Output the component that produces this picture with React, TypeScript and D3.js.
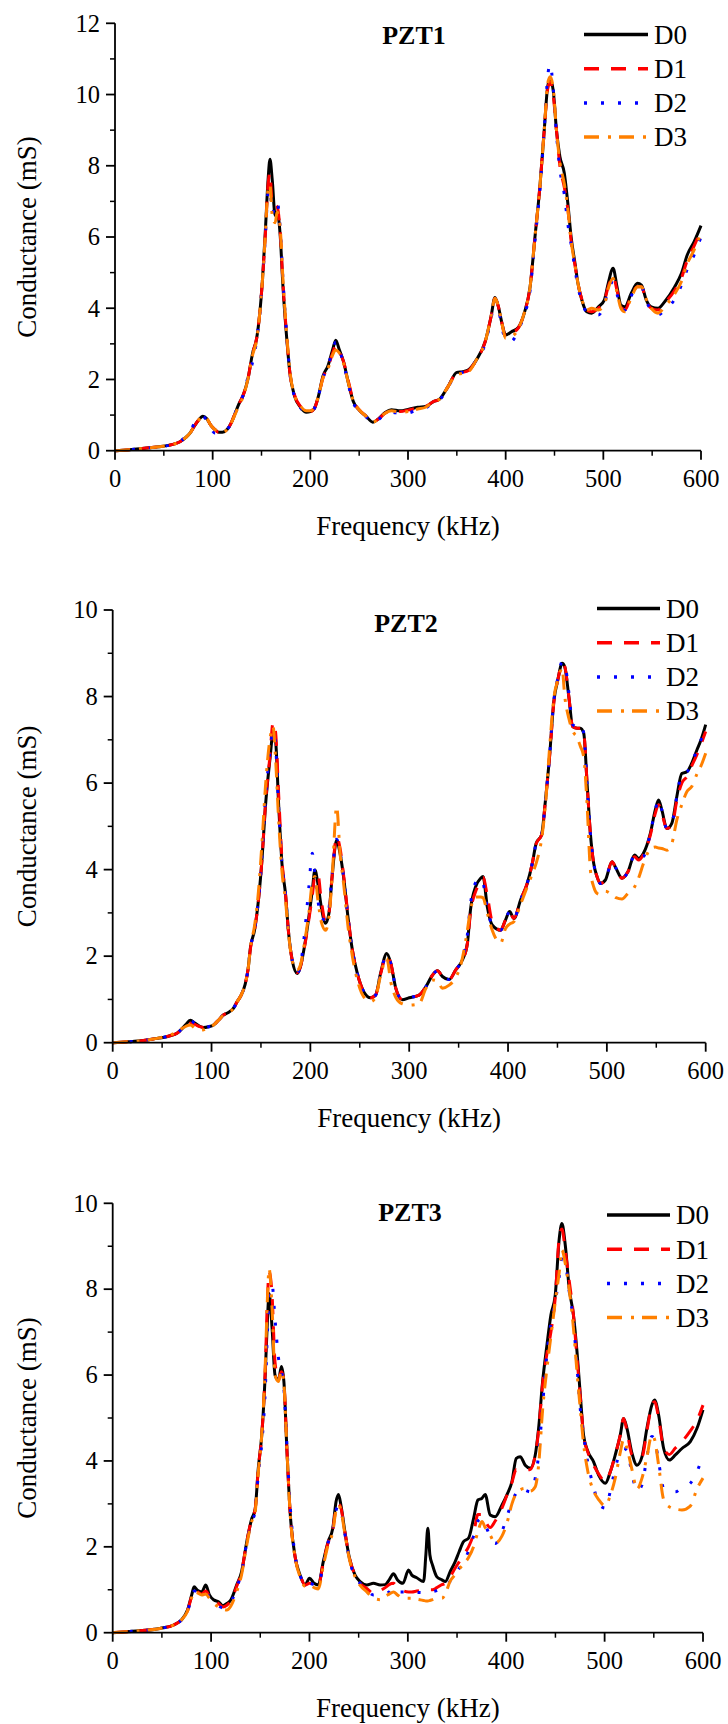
import React from "react";
import * as d3 from "d3";

// ---------- DATA ----------
const seriesNames = ["D0", "D1", "D2", "D3"];
const seriesColors = ["#000000", "#ff0000", "#0000ff", "#ff8000"];
const seriesDash = ["none", "15 12", "3 14", "15 9 3 8"];
const xTicks = [0, 100, 200, 300, 400, 500, 600];
const xMinorTicks = [50, 150, 250, 350, 450, 550];

// PZT1
const p1Freq = [0, 15, 30, 45, 55, 62, 67, 72, 77, 81, 85, 90, 94, 98, 102, 106, 110, 115, 119, 123, 127, 131, 136, 141, 145, 148, 151, 154, 156.5, 158.7, 161, 164, 166, 169, 172, 176, 179, 184, 190, 196, 200, 204, 208, 213, 218, 223, 226, 229.5, 234, 239, 244, 250, 257, 264, 270, 277, 283, 292, 300, 310, 318, 326, 332, 341, 350, 356, 362, 370, 379, 385, 389, 392.5, 396, 400, 406, 413, 419, 425, 430, 435, 439.5, 443, 445.5, 448.6, 452, 455.5, 460, 464, 467, 471, 474, 478, 483, 488, 495, 501, 505, 510, 514, 518, 522, 528.6, 535, 539, 544, 549, 556, 563, 573, 580, 586, 593, 600];
const p1D0 = [0, 0.03, 0.07, 0.11, 0.15, 0.2, 0.26, 0.36, 0.5, 0.68, 0.84, 0.97, 0.9, 0.72, 0.6, 0.52, 0.52, 0.6, 0.78, 1.05, 1.32, 1.54, 2.0, 2.75, 3.15, 3.8, 4.8, 6.2, 7.5, 8.18, 7.6, 6.6, 6.7, 6.1, 4.6, 3.1, 2.2, 1.52, 1.22, 1.08, 1.1, 1.18, 1.5, 2.1, 2.38, 2.85, 3.1, 2.85, 2.5, 1.9, 1.38, 1.14, 0.97, 0.8, 0.9, 1.08, 1.15, 1.12, 1.16, 1.22, 1.24, 1.38, 1.44, 1.8, 2.2, 2.22, 2.27, 2.55, 3.06, 3.76, 4.3, 4.05, 3.6, 3.25, 3.34, 3.46, 3.86, 4.6, 6.0, 7.4, 9.0, 10.22, 10.42, 10.13, 9.0, 8.26, 7.8, 6.85, 6.0, 5.26, 4.7, 4.23, 3.9, 3.86, 4.04, 4.23, 4.7, 5.12, 4.6, 4.09, 4.04, 4.42, 4.7, 4.65, 4.23, 4.04, 4.0, 4.19, 4.6, 4.98, 5.5, 5.87, 6.32];
const p1D1 = [0, 0.03, 0.07, 0.11, 0.15, 0.2, 0.26, 0.36, 0.5, 0.68, 0.84, 0.96, 0.9, 0.72, 0.6, 0.52, 0.52, 0.6, 0.78, 1.05, 1.32, 1.54, 2.0, 2.75, 3.15, 3.8, 4.8, 6.1, 7.4, 7.8, 6.9, 6.9, 6.85, 6.2, 4.7, 3.15, 2.2, 1.55, 1.24, 1.1, 1.1, 1.18, 1.5, 2.05, 2.35, 2.75, 2.95, 2.8, 2.5, 1.95, 1.4, 1.15, 0.97, 0.8, 0.9, 1.06, 1.12, 1.1, 1.14, 1.2, 1.24, 1.38, 1.44, 1.8, 2.18, 2.2, 2.25, 2.55, 3.06, 3.76, 4.28, 4.05, 3.6, 3.2, 3.3, 3.45, 3.86, 4.6, 6.0, 7.4, 9.0, 10.15, 10.35, 10.0, 9.0, 8.0, 7.4, 6.7, 5.9, 5.2, 4.7, 4.25, 3.95, 3.9, 4.0, 4.2, 4.6, 4.9, 4.5, 4.05, 3.95, 4.35, 4.6, 4.6, 4.2, 4.0, 3.95, 4.15, 4.5, 4.85, 5.35, 5.75, 6.2];
const p1D2 = [0, 0.03, 0.07, 0.11, 0.15, 0.2, 0.27, 0.38, 0.55, 0.75, 0.92, 0.96, 0.85, 0.65, 0.5, 0.5, 0.52, 0.6, 0.78, 1.05, 1.32, 1.54, 2.05, 2.5, 3.1, 3.8, 4.8, 6.0, 7.2, 7.35, 6.65, 6.9, 7.0, 6.3, 4.8, 3.2, 2.2, 1.5, 1.2, 1.06, 1.1, 1.18, 1.5, 2.05, 2.35, 2.85, 3.05, 2.85, 2.45, 1.85, 1.35, 1.12, 0.95, 0.78, 0.88, 1.04, 1.08, 1.05, 1.06, 1.15, 1.2, 1.36, 1.42, 1.78, 2.18, 2.2, 2.25, 2.55, 3.0, 3.7, 4.25, 4.0, 3.5, 3.1, 3.08, 3.4, 3.8, 4.5, 5.9, 7.3, 9.0, 10.5, 10.85, 10.2, 8.9, 7.9, 7.2, 6.3, 5.8, 5.1, 4.6, 4.2, 3.9, 3.9, 3.81, 4.1, 4.5, 4.75, 4.4, 4.0, 3.95, 4.35, 4.6, 4.6, 4.2, 3.95, 3.81, 3.95, 4.25, 4.65, 5.1, 5.5, 6.0];
const p1D3 = [0, 0.03, 0.07, 0.11, 0.15, 0.2, 0.26, 0.36, 0.5, 0.68, 0.84, 0.95, 0.9, 0.72, 0.6, 0.52, 0.52, 0.6, 0.78, 1.02, 1.28, 1.5, 2.0, 2.7, 3.1, 3.8, 4.8, 6.1, 7.3, 7.46, 6.6, 6.4, 6.7, 6.3, 4.8, 3.2, 2.25, 1.55, 1.25, 1.12, 1.12, 1.2, 1.5, 2.05, 2.3, 2.7, 2.83, 2.75, 2.45, 1.9, 1.4, 1.15, 0.97, 0.8, 0.9, 1.06, 1.12, 1.08, 1.1, 1.17, 1.22, 1.38, 1.44, 1.8, 2.15, 2.17, 2.22, 2.55, 3.06, 3.76, 4.28, 4.05, 3.6, 3.15, 3.2, 3.42, 3.86, 4.6, 6.0, 7.4, 9.0, 10.3, 10.5, 10.2, 9.0, 8.1, 7.5, 6.7, 5.9, 5.2, 4.7, 4.25, 3.95, 4.0, 3.95, 4.1, 4.55, 4.84, 4.45, 4.0, 3.9, 4.3, 4.6, 4.6, 4.25, 4.0, 3.86, 4.05, 4.4, 4.75, 5.25, 5.64, 6.1];

// PZT2
const p2Freq = [0, 15, 31, 45, 51, 58, 65, 70, 74, 78.5, 83.5, 88, 92, 97, 102, 107, 112, 117, 122, 126, 130, 134, 137, 139.5, 143.5, 147.5, 151, 154.5, 159, 162.3, 164.7, 168, 171.5, 174.8, 178, 181.6, 186.7, 190, 194, 198.5, 202, 204.6, 207.6, 211, 215.4, 218.8, 222, 226.6, 230, 234, 238, 242.5, 247.5, 254, 261, 266, 271, 277.3, 281.4, 286.4, 293, 300, 310, 316.8, 323.5, 328.6, 333.6, 340.4, 347, 353.8, 358.9, 362, 367.3, 372.3, 374.7, 379, 384, 392.5, 397.5, 401.6, 406, 412.7, 419.4, 424.5, 428.5, 433.9, 437.9, 442, 446.3, 450.7, 454.7, 457.4, 461.5, 465.5, 469.9, 473.2, 476.6, 480, 483.3, 486.7, 490, 493.4, 498.5, 505.2, 509.2, 515.3, 521.3, 528, 532, 537, 544, 549, 552.3, 555.6, 560.7, 565.7, 570.8, 575.8, 580.9, 585.9, 591, 595.3, 600];
const p2D0 = [0, 0.02, 0.05, 0.1, 0.12, 0.16, 0.22, 0.32, 0.42, 0.52, 0.45, 0.38, 0.35, 0.37, 0.41, 0.52, 0.64, 0.7, 0.79, 0.95, 1.1, 1.35, 1.7, 2.22, 2.6, 3.3, 4.22, 5.45, 6.53, 7.15, 7.0, 5.45, 4.07, 3.45, 2.53, 1.91, 1.6, 1.76, 2.22, 2.91, 3.53, 3.99, 3.68, 3.14, 2.76, 2.99, 3.84, 4.68, 4.38, 3.76, 2.91, 2.14, 1.6, 1.18, 1.04, 1.1, 1.6, 2.06, 1.83, 1.26, 0.99, 1.04, 1.1, 1.29, 1.56, 1.66, 1.53, 1.46, 1.68, 1.91, 2.3, 3.07, 3.61, 3.8, 3.84, 3.14, 2.72, 2.6, 2.84, 3.03, 2.87, 3.3, 3.68, 4.14, 4.61, 4.8, 5.61, 6.61, 7.88, 8.42, 8.77, 8.69, 8.0, 7.3, 7.27, 7.27, 7.15, 5.99, 4.84, 4.14, 3.84, 3.68, 3.76, 4.18, 4.03, 3.8, 3.95, 4.34, 4.26, 4.38, 4.84, 5.38, 5.61, 5.38, 4.95, 5.07, 5.69, 6.22, 6.26, 6.46, 6.76, 7.0, 7.35];
const p2D1 = [0, 0.02, 0.05, 0.1, 0.12, 0.16, 0.22, 0.3, 0.38, 0.45, 0.42, 0.37, 0.35, 0.37, 0.41, 0.52, 0.64, 0.7, 0.79, 0.95, 1.1, 1.35, 1.7, 2.2, 2.6, 3.3, 4.22, 5.5, 6.6, 7.4, 7.2, 5.7, 4.15, 3.45, 2.53, 1.91, 1.62, 1.76, 2.2, 2.85, 3.4, 3.85, 3.9, 3.3, 2.8, 2.99, 3.84, 4.76, 4.5, 3.8, 2.95, 2.14, 1.6, 1.18, 1.04, 1.1, 1.58, 2.03, 1.83, 1.26, 1.0, 1.04, 1.1, 1.29, 1.56, 1.66, 1.53, 1.46, 1.68, 1.91, 2.3, 3.0, 3.5, 3.7, 3.82, 3.4, 2.8, 2.6, 2.84, 3.0, 2.87, 3.3, 3.68, 4.14, 4.6, 4.8, 5.6, 6.6, 7.85, 8.42, 8.77, 8.69, 8.0, 7.3, 7.27, 7.27, 7.15, 5.99, 4.84, 4.14, 3.84, 3.68, 3.76, 4.18, 4.03, 3.8, 3.95, 4.3, 4.22, 4.35, 4.8, 5.3, 5.5, 5.3, 4.95, 5.0, 5.6, 6.0, 6.15, 6.4, 6.65, 6.9, 7.19];
const p2D2 = [0, 0.02, 0.05, 0.1, 0.12, 0.16, 0.22, 0.32, 0.42, 0.5, 0.45, 0.38, 0.35, 0.37, 0.41, 0.52, 0.64, 0.7, 0.79, 0.95, 1.1, 1.35, 1.7, 2.2, 2.6, 3.3, 4.3, 5.6, 6.7, 7.2, 6.9, 5.4, 4.07, 3.45, 2.5, 1.91, 1.6, 1.8, 2.5, 3.6, 4.38, 3.9, 3.3, 2.87, 2.84, 3.1, 3.9, 4.7, 4.4, 3.76, 2.91, 2.14, 1.6, 1.18, 1.04, 1.1, 1.6, 2.03, 1.83, 1.26, 1.0, 1.04, 1.1, 1.29, 1.56, 1.66, 1.53, 1.46, 1.68, 1.95, 2.5, 3.2, 3.7, 3.8, 3.7, 3.1, 2.72, 2.6, 2.84, 3.03, 2.87, 3.3, 3.68, 4.14, 4.61, 4.8, 5.61, 6.61, 7.9, 8.45, 8.8, 8.75, 8.1, 7.35, 7.3, 7.36, 7.15, 5.99, 4.84, 4.14, 3.84, 3.68, 3.76, 4.18, 4.03, 3.8, 3.95, 4.34, 4.26, 4.3, 4.84, 5.38, 5.61, 5.38, 4.95, 5.07, 5.69, 6.22, 6.26, 6.46, 6.76, 7.0, 7.34];
const p2D3 = [0, 0.02, 0.05, 0.1, 0.13, 0.18, 0.25, 0.33, 0.38, 0.41, 0.33, 0.29, 0.3, 0.35, 0.41, 0.52, 0.64, 0.7, 0.79, 0.95, 1.1, 1.35, 1.7, 2.22, 2.7, 3.5, 4.6, 5.9, 7.0, 7.3, 6.6, 5.1, 3.9, 3.3, 2.5, 1.9, 1.68, 1.8, 2.3, 3.0, 3.7, 3.84, 3.3, 2.8, 2.6, 2.9, 3.8, 5.45, 4.4, 3.6, 2.7, 2.0, 1.45, 1.06, 0.95, 1.05, 1.55, 1.95, 1.4, 1.05, 0.9, 0.87, 0.9, 1.25, 1.45, 1.42, 1.26, 1.33, 1.5, 1.95, 2.6, 3.07, 3.37, 3.37, 3.35, 3.0, 2.6, 2.3, 2.64, 2.74, 2.8, 3.2, 3.6, 3.9, 4.15, 4.7, 5.5, 6.8, 7.95, 8.4, 8.65, 8.0, 7.5, 7.2, 7.05, 6.85, 6.6, 5.5, 4.0, 3.6, 3.45, 3.42, 3.5, 3.42, 3.35, 3.32, 3.45, 3.6, 3.8, 4.14, 4.48, 4.52, 4.5, 4.49, 4.45, 4.6, 5.15, 5.5, 5.8, 5.92, 6.2, 6.4, 6.69];

// PZT3
const p3Freq = [0, 24, 48, 62, 70, 76, 80.3, 82.7, 86, 90.5, 94.6, 98.3, 103, 107.5, 112, 116, 120, 126, 131, 136.3, 141.4, 144.7, 148, 151.5, 155, 157.3, 159, 162, 165, 168.5, 171.5, 174, 177, 180.3, 185.4, 190.5, 195.6, 200, 204.7, 209, 214, 219, 223.7, 227, 229.5, 232, 236, 240.7, 246.4, 251.5, 258.3, 265, 271.9, 277, 281, 285.4, 289.5, 295, 300.7, 304, 309, 316, 318.3, 320.3, 322.4, 325, 329.5, 334.6, 338, 343, 348, 352.2, 356.6, 361.7, 366.8, 371.2, 375.3, 378.6, 383.7, 388.8, 395.6, 400.7, 405.8, 410.2, 414.2, 419.3, 424.4, 429.5, 432.9, 437, 441.4, 445.4, 449.8, 453.9, 456.6, 460, 464, 468.3, 471.9, 475.3, 478.6, 483, 488.8, 493.9, 500.7, 505.8, 510.8, 515.9, 519.3, 522.7, 527.8, 532.9, 538, 543, 548, 550.8, 554.9, 560, 565.8, 571.9, 578.6, 587.1, 593.9, 600];
const p3D0 = [0, 0.04, 0.1, 0.18, 0.3, 0.53, 0.88, 1.07, 0.99, 0.95, 1.11, 0.88, 0.76, 0.72, 0.63, 0.68, 0.76, 1.11, 1.42, 2.12, 2.66, 2.86, 3.83, 4.6, 6.0, 7.3, 7.9, 7.09, 6.0, 5.88, 6.2, 5.85, 4.3, 2.82, 1.77, 1.34, 1.11, 1.27, 1.15, 1.11, 1.65, 2.12, 2.43, 3.05, 3.22, 2.97, 2.35, 1.73, 1.34, 1.19, 1.11, 1.15, 1.11, 1.12, 1.23, 1.37, 1.23, 1.15, 1.46, 1.34, 1.28, 1.19, 1.81, 2.43, 1.81, 1.58, 1.3, 1.23, 1.19, 1.42, 1.65, 1.89, 2.12, 2.2, 2.66, 3.09, 3.13, 3.22, 2.74, 2.7, 2.97, 3.21, 3.52, 4.06, 4.1, 3.9, 3.83, 4.14, 4.76, 5.85, 6.7, 7.4, 7.86, 9.18, 9.53, 9.03, 8.02, 7.4, 6.55, 5.54, 4.6, 4.22, 3.98, 3.67, 3.48, 3.75, 4.14, 4.6, 4.99, 4.76, 4.18, 3.9, 4.1, 4.76, 5.3, 5.42, 5.07, 4.29, 4.02, 4.14, 4.29, 4.45, 4.76, 5.19];
const p3D1 = [0, 0.04, 0.1, 0.18, 0.3, 0.5, 0.85, 1.0, 0.95, 0.9, 0.97, 0.85, 0.74, 0.68, 0.6, 0.64, 0.74, 1.08, 1.42, 2.12, 2.66, 2.86, 3.83, 4.6, 6.1, 7.8, 8.4, 7.86, 6.3, 5.9, 6.08, 5.85, 4.3, 2.82, 1.77, 1.34, 1.11, 1.15, 1.12, 1.1, 1.62, 2.1, 2.4, 2.9, 3.0, 2.9, 2.35, 1.73, 1.34, 1.15, 1.03, 0.92, 0.98, 1.05, 1.12, 1.15, 1.05, 0.98, 0.95, 0.95, 0.97, 0.99, 0.99, 1.0, 1.0, 1.0, 1.05, 1.12, 1.15, 1.3, 1.5, 1.65, 1.81, 2.0, 2.3, 2.75, 2.75, 2.6, 2.45, 2.6, 2.9, 3.2, 3.5, 3.8, 3.8, 3.79, 3.8, 4.14, 4.7, 5.8, 6.5, 7.0, 7.8, 9.2, 9.4, 8.9, 8.2, 7.4, 6.4, 5.5, 4.6, 4.2, 3.9, 3.7, 3.52, 3.75, 4.14, 4.6, 4.99, 4.7, 4.14, 4.08, 4.1, 4.7, 5.3, 5.38, 5.0, 4.3, 4.15, 4.3, 4.45, 4.7, 4.95, 5.3];
const p3D2 = [0, 0.04, 0.1, 0.18, 0.3, 0.5, 0.82, 0.97, 0.95, 0.9, 0.95, 0.82, 0.7, 0.62, 0.58, 0.62, 0.7, 1.05, 1.4, 2.1, 2.6, 2.8, 3.7, 4.4, 5.6, 7.0, 7.8, 8.1, 7.3, 6.4, 6.1, 5.7, 4.4, 3.0, 1.8, 1.34, 1.1, 1.15, 1.12, 1.1, 1.6, 2.1, 2.4, 2.85, 2.95, 2.85, 2.3, 1.7, 1.3, 1.15, 1.0, 0.88, 0.9, 0.92, 0.95, 1.05, 0.95, 0.95, 0.95, 0.95, 0.94, 0.93, 0.92, 0.92, 0.93, 0.95, 0.98, 1.03, 1.07, 1.2, 1.34, 1.5, 1.65, 1.9, 2.25, 2.6, 2.65, 2.51, 2.25, 2.08, 2.35, 2.7, 3.05, 3.25, 3.36, 3.32, 3.28, 3.6, 4.14, 5.3, 6.5, 7.2, 7.7, 8.3, 8.7, 8.6, 7.95, 7.24, 6.2, 5.2, 4.6, 3.95, 3.4, 3.0, 2.9, 3.3, 3.83, 4.2, 4.29, 4.25, 3.7, 3.3, 3.44, 4.1, 4.57, 4.5, 3.98, 3.36, 3.3, 3.28, 3.38, 3.48, 3.75, 4.14];
const p3D3 = [0, 0.04, 0.1, 0.18, 0.3, 0.5, 0.82, 0.95, 0.93, 0.88, 0.9, 0.8, 0.68, 0.6, 0.55, 0.53, 0.62, 0.95, 1.35, 2.05, 2.6, 2.8, 3.75, 4.6, 6.2, 7.8, 8.47, 7.55, 6.0, 5.85, 6.1, 5.8, 4.3, 2.8, 1.75, 1.3, 1.08, 1.1, 1.05, 1.02, 1.55, 2.05, 2.35, 2.85, 2.97, 2.85, 2.3, 1.7, 1.3, 1.1, 0.95, 0.8, 0.77, 0.85, 0.9, 0.95, 0.88, 0.8, 0.8, 0.8, 0.78, 0.75, 0.74, 0.74, 0.75, 0.77, 0.8, 0.8, 0.9, 1.2, 1.35, 1.48, 1.6, 1.75, 2.0, 2.35, 2.59, 2.45, 2.27, 2.08, 2.25, 2.55, 3.0, 3.25, 3.33, 3.36, 3.3, 3.4, 3.9, 5.2, 6.16, 6.9, 7.7, 8.4, 8.91, 8.6, 8.0, 7.1, 6.08, 5.2, 4.4, 3.75, 3.3, 3.1, 2.95, 3.2, 3.6, 4.2, 4.5, 4.3, 3.8, 3.35, 3.6, 4.1, 4.6, 4.5, 3.9, 3.1, 2.93, 2.88, 2.86, 2.95, 3.35, 3.6];

const panelTitles = ["PZT1", "PZT2", "PZT3"];
const panelYMax = [12, 10, 10];
const p1YTicks = [0, 2, 4, 6, 8, 10, 12];
const p2YTicks = [0, 2, 4, 6, 8, 10];
const p3YTicks = [0, 2, 4, 6, 8, 10];

// ---------- LAYOUT ----------
const W = 728;
const H = 1724;
const FONT = "Liberation Serif, Times New Roman, DejaVu Serif, serif";

type PanelCfg = {
  title: string;
  freq: number[];
  series: number[][];
  yMax: number;
  yTicks: number[];
  left: number;
  right: number;
  top: number;
  bottom: number;
  titleX: number;
  titleY: number;
  legLineX0: number;
  legLineX1: number;
  legY0: number;
};

const panels: PanelCfg[] = [
  { title: panelTitles[0], freq: p1Freq, series: [p1D0, p1D1, p1D2, p1D3], yMax: panelYMax[0], yTicks: p1YTicks,
    left: 115, right: 701, top: 23.3, bottom: 450.7, titleX: 414, titleY: 43.5, legLineX0: 584, legLineX1: 648, legY0: 34.5 },
  { title: panelTitles[1], freq: p2Freq, series: [p2D0, p2D1, p2D2, p2D3], yMax: panelYMax[1], yTicks: p2YTicks,
    left: 112.7, right: 705.7, top: 610, bottom: 1042.7, titleX: 406, titleY: 631.5, legLineX0: 597, legLineX1: 660, legY0: 608.5 },
  { title: panelTitles[2], freq: p3Freq, series: [p3D0, p3D1, p3D2, p3D3], yMax: panelYMax[2], yTicks: p3YTicks,
    left: 112.7, right: 703, top: 1203.3, bottom: 1632.7, titleX: 410, titleY: 1220.5, legLineX0: 607, legLineX1: 670, legY0: 1215 },
];

const LEG_STEP = 34.2;
const textStyle: React.CSSProperties = { fontFamily: FONT };

function Panel({ cfg }: { cfg: PanelCfg }) {
  const x = d3.scaleLinear().domain([0, 600]).range([cfg.left, cfg.right]);
  const y = d3.scaleLinear().domain([0, cfg.yMax]).range([cfg.bottom, cfg.top]);
  const yMinor = d3.range(1, cfg.yMax, 2);
  const line = d3
    .line<number>()
    .x((_, i) => x(cfg.freq[i]))
    .y((v) => y(v))
    .curve(d3.curveMonotoneX);
  const midX = (cfg.left + cfg.right) / 2;
  const midY = (cfg.top + cfg.bottom) / 2;
  return (
    <g>
      {cfg.series.map((vals, si) => (
        <path
          key={si}
          d={line(vals) || ""}
          fill="none"
          stroke={seriesColors[si]}
          strokeWidth={3}
          strokeDasharray={seriesDash[si] === "none" ? undefined : seriesDash[si]}
          strokeLinejoin="round"
        />
      ))}
      <line x1={cfg.left} x2={cfg.left} y1={cfg.top} y2={cfg.bottom} stroke="#000" strokeWidth={1.8} />
      <line x1={cfg.left} x2={cfg.right} y1={cfg.bottom} y2={cfg.bottom} stroke="#000" strokeWidth={1.8} />
      {cfg.yTicks.map((t) => (
        <g key={"yt" + t}>
          <line x1={cfg.left - 9} x2={cfg.left} y1={y(t)} y2={y(t)} stroke="#000" strokeWidth={1.8} />
          <text x={cfg.left - 15} y={y(t) + 8.3} textAnchor="end" fontSize={24.5} style={textStyle} fill="#000">
            {t}
          </text>
        </g>
      ))}
      {yMinor.map((t) => (
        <line key={"ym" + t} x1={cfg.left - 5} x2={cfg.left} y1={y(t)} y2={y(t)} stroke="#000" strokeWidth={1.5} />
      ))}
      {xTicks.map((t) => (
        <g key={"xt" + t}>
          <line x1={x(t)} x2={x(t)} y1={cfg.bottom} y2={cfg.bottom + 9} stroke="#000" strokeWidth={1.8} />
          <text x={x(t)} y={cfg.bottom + 36} textAnchor="middle" fontSize={24.5} style={textStyle} fill="#000">
            {t}
          </text>
        </g>
      ))}
      {xMinorTicks.map((t) => (
        <line key={"xm" + t} x1={x(t)} x2={x(t)} y1={cfg.bottom} y2={cfg.bottom + 5} stroke="#000" strokeWidth={1.5} />
      ))}
      <text x={midX} y={cfg.bottom + 84.5} textAnchor="middle" fontSize={27} style={textStyle} fill="#000">
        Frequency (kHz)
      </text>
      <text
        transform={`translate(35.5, ${midY}) rotate(-90)`}
        textAnchor="middle"
        fontSize={27}
        style={textStyle}
        fill="#000"
      >
        Conductance (mS)
      </text>
      <text x={cfg.titleX} y={cfg.titleY} textAnchor="middle" fontSize={26} fontWeight="bold" style={textStyle} fill="#000">
        {cfg.title}
      </text>
      {seriesNames.map((name, si) => {
        const ly = cfg.legY0 + si * LEG_STEP;
        return (
          <g key={name}>
            <line
              x1={cfg.legLineX0}
              x2={cfg.legLineX1}
              y1={ly}
              y2={ly}
              stroke={seriesColors[si]}
              strokeWidth={3.5}
              strokeDasharray={seriesDash[si] === "none" ? undefined : seriesDash[si]}
            />
            <text x={cfg.legLineX1 + 6} y={ly + 9.3} fontSize={27} style={textStyle} fill="#000">
              {name}
            </text>
          </g>
        );
      })}
    </g>
  );
}

export default function App() {
  return (
    <svg
      width={W}
      height={H}
      viewBox={`0 0 ${W} ${H}`}
      style={{ position: "absolute", left: 0, top: 0, background: "#fff" }}
    >
      <rect x={0} y={0} width={W} height={H} fill="#fff" />
      {panels.map((p, i) => (
        <Panel key={i} cfg={p} />
      ))}
    </svg>
  );
}
